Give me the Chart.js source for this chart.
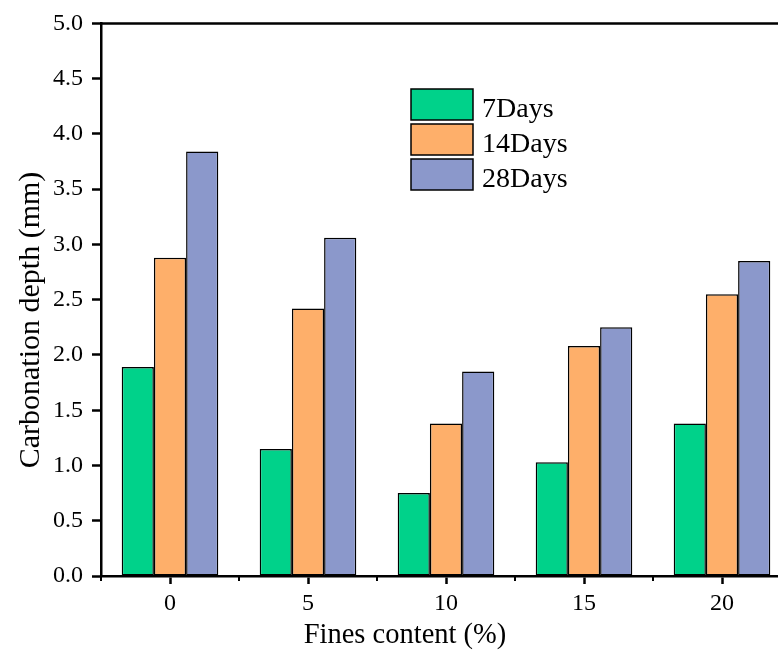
<!DOCTYPE html>
<html>
<head>
<meta charset="utf-8">
<script src="https://cdn.jsdelivr.net/npm/chart.js@4.4.0/dist/chart.umd.min.js"></script>
<style>
    html, body { margin: 0; padding: 0; background: #fff; overflow: hidden; }
    #wrap { width: 792px; height: 651px; }
</style>
</head>
<body>
<div id="wrap"><canvas id="depthChart" width="792" height="651"></canvas></div>
<script>
// Data
const finesContent = ['0', '5', '10', '15', '20'];
const days7 = [1.89, 1.15, 0.75, 1.03, 1.38];
const days14 = [2.88, 2.42, 1.38, 2.08, 2.55];
const days28 = [3.84, 3.06, 1.85, 2.25, 2.85];
const seriesNames = ['7Days', '14Days', '28Days'];
const seriesColors = ['#00d28a', '#feaf6a', '#8b98cb'];

const FONT = '"Liberation Serif", "Times New Roman", serif';

// Frame on top/right, minor ticks, axis titles and legend
const decorPlugin = {
    id: 'decor',
    afterDraw(chart) {
        const ctx = chart.ctx;
        const area = chart.chartArea;
        const xs = chart.scales.x;

        ctx.save();
        ctx.strokeStyle = '#000';
        ctx.lineWidth = 2.5;
        ctx.beginPath();
        ctx.moveTo(area.left - 1, area.top);
        ctx.lineTo(area.right, area.top);
        ctx.lineTo(area.right, area.bottom);
        ctx.stroke();

        // minor ticks between categories
        const step = xs.getPixelForValue(1) - xs.getPixelForValue(0);
        ctx.lineWidth = 2;
        for (let i = 0; i <= finesContent.length; i++) {
            const x = xs.getPixelForValue(0) - step / 2 + i * step;
            ctx.beginPath();
            ctx.moveTo(x, area.bottom);
            ctx.lineTo(x, area.bottom + 5);
            ctx.stroke();
        }

        // axis titles
        ctx.fillStyle = '#000';
        ctx.font = '28.5px ' + FONT;
        ctx.textAlign = 'center';
        ctx.textBaseline = 'alphabetic';
        ctx.fillText('Fines content (%)', 405, 643);

        ctx.save();
        ctx.translate(39, 320);
        ctx.rotate(-Math.PI / 2);
        ctx.font = '30px ' + FONT;
        ctx.fillText('Carbonation depth (mm)', 0, 0);
        ctx.restore();

        // legend
        const lx = 411, ly = 89, bw = 62, bh = 31, gap = 35;
        ctx.font = '28px ' + FONT;
        ctx.textAlign = 'left';
        ctx.lineWidth = 1.5;
        seriesNames.forEach((name, i) => {
            const y = ly + i * gap;
            ctx.fillStyle = seriesColors[i];
            ctx.fillRect(lx, y, bw, bh);
            ctx.strokeRect(lx, y, bw, bh);
            ctx.fillStyle = '#000';
            ctx.fillText(name, lx + bw + 9, y + bh - 3);
        });
        ctx.restore();
    }
};

const ctx = document.getElementById('depthChart');
new Chart(ctx, {
    type: 'bar',
    data: {
        labels: finesContent,
        datasets: [days7, days14, days28].map((vals, i) => ({
            label: seriesNames[i],
            data: vals,
            backgroundColor: seriesColors[i],
            borderColor: '#000',
            borderWidth: 1.5,
            borderSkipped: false,
            categoryPercentage: 0.7,
            barPercentage: 1.0
        }))
    },
    options: {
        responsive: false,
        animation: false,
        devicePixelRatio: 1,
        layout: { padding: { top: 22, right: 1, left: 0, bottom: 0 } },
        plugins: {
            legend: { display: false },
            tooltip: { enabled: false }
        },
        scales: {
            x: {
                type: 'category',
                offset: true,
                grid: {
                    display: true,
                    drawOnChartArea: false,
                    drawTicks: true,
                    tickLength: 8,
                    tickWidth: 2.5,
                    tickColor: '#000',
                    offset: false
                },
                border: { display: true, color: '#000', width: 2.5 },
                ticks: {
                    color: '#000',
                    font: { family: FONT, size: 24 },
                    padding: 5
                },
                afterFit(scale) { scale.height = 75; }
            },
            y: {
                min: 0,
                max: 5,
                grid: {
                    display: true,
                    drawOnChartArea: false,
                    drawTicks: true,
                    tickLength: 9,
                    tickWidth: 2.5,
                    tickColor: '#000'
                },
                border: { display: true, color: '#000', width: 2.5 },
                ticks: {
                    stepSize: 0.5,
                    color: '#000',
                    font: { family: FONT, size: 24 },
                    padding: 9,
                    callback: v => Number(v).toFixed(1)
                },
                afterFit(scale) { scale.width = 101; }
            }
        }
    },
    plugins: [decorPlugin]
});
</script>
</body>
</html>
